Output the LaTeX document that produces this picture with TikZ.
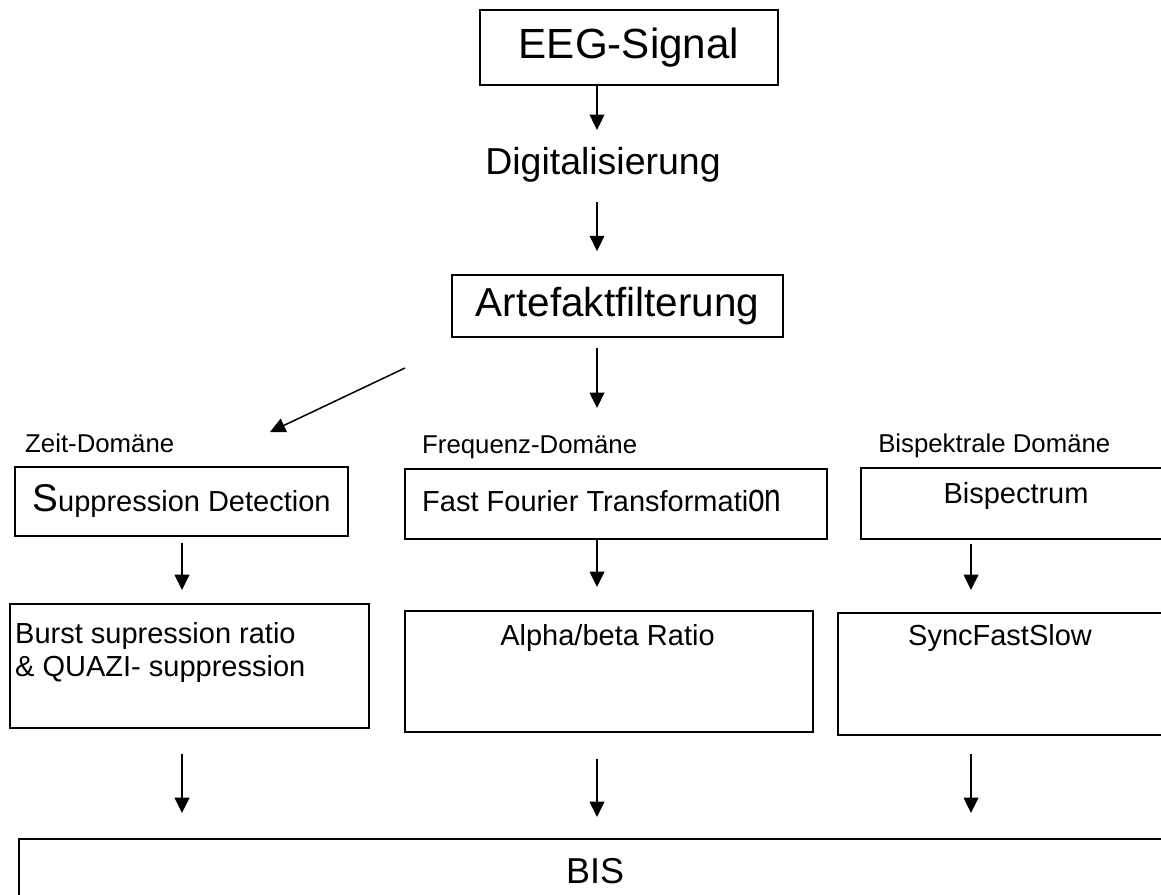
\documentclass[tikz,border=0pt]{standalone}
\usepackage{fontspec}
\setmainfont{Liberation Sans}
\usetikzlibrary{arrows.meta}
\tikzset{%
	box/.style   = {draw, rectangle, line width=0.5mm, inner sep=0pt},
	tag/.style   = {anchor=base west, inner sep=0pt, font=\fontsize{22}{26}\selectfont},
	txt/.style   = {inner sep=0pt, font=\fontsize{24.75}{28.5}\selectfont},
	arrow/.style = {line width=0.45mm, -{Triangle[length=4.6mm,width=4.4mm]}},
}

\begin{document}
\begin{tikzpicture}[x=0.03cm,y=-0.03cm]
	\useasboundingbox (0,0) rectangle (1161,894);
	\coordinate (colA) at (182,0);
	\coordinate (colB) at (597,0);
	\coordinate (colC) at (971,0);
	\coordinate (split) at (405,368);
	\coordinate (zeitend) at (270,432);

	\node[box, minimum width=8.94cm, minimum height=2.25cm, font=\fontsize{36}{40}\selectfont] (eeg) at (629,47.5) {EEG-Signal};
	\node[inner sep=0pt, font=\fontsize{32}{36}\selectfont] (digi) at (603,165) {Digitalisierung};
	\node[box, minimum width=9.93cm, minimum height=1.86cm, font=\fontsize{34.5}{40}\selectfont] (art) at (617.5,306) {Artefaktfilterung};

	\node[tag] (zeit) at (25,452) {Zeit-Domäne};
	\node[tag] (freq) at (422,453) {Frequenz-Domäne};
	\node[tag] (bispl) at (878,452) {Bispektrale Domäne};

	\node[box, txt, minimum width=9.99cm, minimum height=2.07cm] (supp) at (181.5,501.5) {{\fontsize{33}{36}\selectfont S}uppression Detection};
	\node[box, anchor=north west, minimum width=12.66cm, minimum height=2.1cm] (fft) at (404,468) {};
	\node[txt, anchor=base west] (fftx) at (422,511) {Fast Fourier Transformati\scalebox{0.75}[1]{\fontsize{34}{36}\selectfont on}};
	\node[box, anchor=north west, minimum width=9.45cm, minimum height=2.13cm] (bsp) at (860,467) {};
	\node[txt, anchor=base] (bspx) at (1016,503) {Bispectrum};

	\node[box, anchor=north west, minimum width=10.77cm, minimum height=3.72cm] (burst) at (9,603) {};
	\node[txt, anchor=base west] (burstx) at (15,643) {Burst supression ratio};
	\node[txt, anchor=base west] (quazix) at (15,676) {\& QUAZI- suppression};
	\node[box, anchor=north west, minimum width=12.24cm, minimum height=3.63cm] (alpha) at (404,610) {};
	\node[txt, anchor=base] (alphax) at (607.5,645) {Alpha/beta Ratio};
	\node[box, anchor=north west, minimum width=10.14cm, minimum height=3.66cm] (sync) at (837,612) {};
	\node[txt, anchor=base] (syncx) at (1000,645) {SyncFastSlow};

	\node[box, anchor=north west, minimum width=34.71cm, minimum height=2.76cm] (bis) at (18,838) {};
	\node[anchor=base, inner sep=0pt, font=\fontsize{30.7}{34}\selectfont] (bisx) at (595,883) {BIS};

	\draw[arrow, shorten >=0.52cm] (eeg.south -| colB) -- (digi.north -| colB);
	\draw[arrow, shorten <=0.58cm, shorten >=0.69cm] (digi.south -| colB) -- (art.north -| colB);
	\draw[arrow, shorten <=0.3cm, shorten >=1.8cm] (art.south -| colB) -- (fft.north -| colB);
	\draw[arrow] (split) -- (zeitend);

	\draw[arrow, shorten <=0.18cm, shorten >=0.39cm] (supp.south -| colA) -- (burst.north -| colA);
	\draw[arrow, shorten >=0.69cm] (fft.south -| colB) -- (alpha.north -| colB);
	\draw[arrow, shorten <=0.12cm, shorten >=0.66cm] (bsp.south -| colC) -- (sync.north -| colC);

	\draw[arrow, shorten <=0.75cm, shorten >=0.75cm] (burst.south -| colA) -- (bis.north -| colA);
	\draw[arrow, shorten <=0.78cm, shorten >=0.63cm] (alpha.south -| colB) -- (bis.north -| colB);
	\draw[arrow, shorten <=0.54cm, shorten >=0.75cm] (sync.south -| colC) -- (bis.north -| colC);
\end{tikzpicture}
\end{document}
